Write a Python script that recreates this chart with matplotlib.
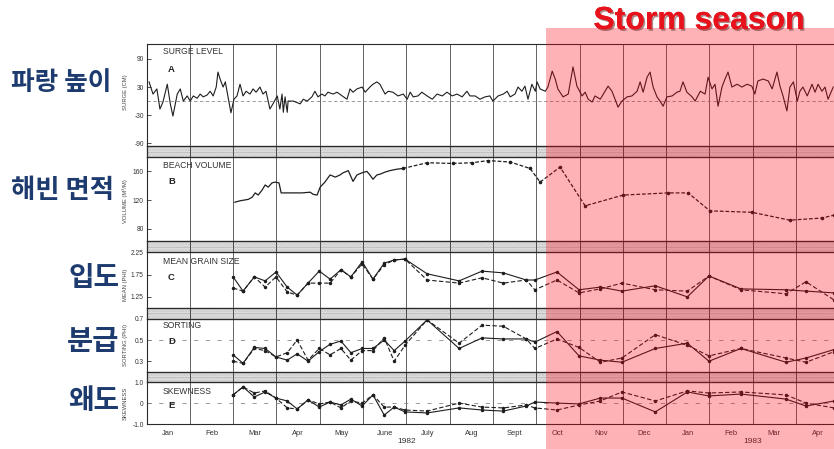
import numpy as np
import matplotlib
matplotlib.use("Agg")
import matplotlib.pyplot as plt
from matplotlib.patches import Rectangle
import matplotlib.patheffects as pe

plt.rcParams['font.family'] = ['Liberation Sans', 'DejaVu Sans']
plt.rcParams['axes.unicode_minus'] = False

# ---------------- data (time in months since 1 Jan 1982) ----------------
month_labels = ["Jan", "Feb", "Mar", "Apr", "May", "June", "July", "Aug", "Sept",
                "Oct", "Nov", "Dec", "Jan", "Feb", "Mar", "Apr"]
year_labels = ["1982", "1983"]
year_label_pos = [6, 14]

surge_t = [0.06, 0.15, 0.24, 0.31, 0.38, 0.48, 0.55, 0.61, 0.71, 0.78,
           0.85, 0.94, 1.01, 1.08, 1.17, 1.24, 1.31, 1.40, 1.47, 1.54,
           1.61, 1.65, 1.70, 1.77, 1.82, 1.88, 1.95, 2.02, 2.09, 2.16,
           2.23, 2.30, 2.39, 2.46, 2.53, 2.62, 2.69, 2.76, 2.85, 2.92,
           3.02, 3.08, 3.13, 3.16, 3.20, 3.25, 3.27, 3.39, 3.55, 3.62,
           3.71, 3.82, 3.89, 3.96, 4.05, 4.12, 4.19, 4.31, 4.40, 4.52,
           4.63, 4.70, 4.77, 4.86, 4.98, 5.05, 5.16, 5.23, 5.32, 5.39,
           5.51, 5.58, 5.69, 5.81, 5.93, 6.02, 6.09, 6.16, 6.27, 6.36,
           6.48, 6.60, 6.71, 6.83, 6.94, 7.06, 7.17, 7.29, 7.40, 7.47,
           7.59, 7.70, 7.82, 7.93, 8.00, 8.12, 8.24, 8.33, 8.40, 8.51,
           8.58, 8.67, 8.74, 8.81, 8.90, 8.98, 9.02, 9.09, 9.21, 9.27,
           9.37, 9.44, 9.50, 9.62, 9.74, 9.85, 9.94, 10.06, 10.13, 10.20,
           10.29, 10.36, 10.48, 10.59, 10.66, 10.75, 10.82, 10.89, 10.98, 11.10,
           11.21, 11.33, 11.40, 11.47, 11.56, 11.63, 11.70, 11.79, 11.86, 11.93,
           12.02, 12.14, 12.25, 12.32, 12.39, 12.48, 12.60, 12.67, 12.79, 12.90,
           12.97, 13.06, 13.13, 13.20, 13.29, 13.36, 13.43, 13.52, 13.64, 13.75,
           13.87, 13.98, 14.05, 14.12, 14.24, 14.36, 14.45, 14.56, 14.63, 14.70,
           14.79, 14.86, 14.94, 15.03, 15.09, 15.16, 15.26, 15.37, 15.44, 15.51,
           15.60, 15.67, 15.74, 15.86]
surge_cm = [41, 15, 26, -17, -2, 36, -6, -32, 15, 26,
            0, 11, 0, 11, 6, 15, 9, 13, 21, 11,
            30, 62, 47, 30, 41, 11, -25, 4, 11, 36,
            11, 21, 15, 26, 19, 30, 15, 21, -17, -6,
            11, -17, 15, -24, 9, -24, 0, 0, -6, 4,
            0, 9, 21, 9, 15, 11, 19, 15, 19, 11,
            4, 26, 19, 26, 30, 19, 30, 36, 41, 36,
            15, 21, 19, 11, 15, 4, 19, 9, 11, 19,
            11, 4, 15, 11, 19, 11, 15, 9, 21, 11,
            11, 4, 9, 11, 0, 11, 15, 21, 9, 15,
            30, 21, 32, 4, 36, 21, 41, 26, 21, 30,
            64, 47, 26, 9, 15, 73, 32, 11, 19, 4,
            -2, 11, 4, 21, 32, 21, 4, -13, 0, 9,
            11, 21, 41, 19, 51, 62, 30, 9, 0, -11,
            9, 11, 19, 21, 41, 19, 9, 0, 21, 15,
            51, 26, 36, -11, 30, 47, 62, 30, 36, 30,
            36, 32, 15, 43, 47, 43, 26, 62, 32, 11,
            -21, 30, 41, 0, 21, 30, 11, 36, 19, 36,
            21, 30, 4, 30]

# beach volume: continuous survey (solid) and monthly profiles (dashed)
volume_t_cont = [2.04, 2.16, 2.35, 2.44, 2.51, 2.58, 2.67, 2.74, 2.81, 2.90,
                 2.97, 3.06, 3.11, 3.20, 3.39, 3.59, 3.78, 3.85, 3.94, 4.01,
                 4.12, 4.24, 4.36, 4.47, 4.54, 4.66, 4.77, 4.86, 4.98, 5.09,
                 5.16, 5.23, 5.32, 5.39, 5.51, 5.62, 5.78, 5.92]
volume_cont = [117, 119, 121, 124, 130, 127, 134, 141, 138, 144,
               145, 144, 130, 130, 130, 130, 131, 128, 127, 138,
               145, 155, 152, 155, 158, 161, 146, 155, 158, 160,
               155, 149, 155, 156, 159, 161, 163, 164]
volume_t_monthly = [5.92, 6.48, 7.08, 7.52, 7.89, 8.40, 8.86, 9.09, 9.55,
                    10.13, 11.01, 12.05, 12.51, 13.01, 13.98, 14.86, 15.60, 15.88]
volume_monthly = [164, 172, 171, 172, 175, 173, 164, 145, 166,
                  112, 127, 130, 130, 105, 103, 92, 95, 99]

# grain-size statistics, two sampling lines (solid / dashed)
grain_t = [2.00, 2.23, 2.49, 2.74, 2.99, 3.25, 3.48, 3.73, 3.99, 4.24,
           4.49, 4.72, 4.98, 5.23, 5.49, 5.72, 5.97, 6.48, 7.22, 7.75,
           8.24, 8.77, 8.97, 9.48, 9.99, 10.48, 10.98, 11.75, 12.49, 12.99,
           13.73, 14.77, 15.23, 15.88]
mean_solid = [1.70, 1.38, 1.70, 1.61, 1.81, 1.47, 1.29, 1.56, 1.83, 1.65,
              1.86, 1.70, 2.04, 1.65, 2.01, 2.08, 2.10, 1.77, 1.61, 1.83,
              1.79, 1.63, 1.63, 1.81, 1.41, 1.47, 1.38, 1.50, 1.25, 1.72,
              1.43, 1.41, 1.38, 1.34]
mean_dashed = [1.45, 1.38, 1.70, 1.47, 1.70, 1.36, 1.29, 1.56, 1.56, 1.56,
               1.86, 1.70, 1.99, 1.65, 1.97, 2.08, 2.10, 1.63, 1.56, 1.68,
               1.56, 1.63, 1.41, 1.63, 1.34, 1.43, 1.56, 1.41, 1.38, 1.72,
               1.41, 1.32, 1.59, 1.18]
sorting_solid = [0.36, 0.28, 0.43, 0.42, 0.34, 0.31, 0.37, 0.30, 0.39, 0.46,
                 0.49, 0.38, 0.42, 0.42, 0.50, 0.40, 0.49, 0.69, 0.42, 0.52,
                 0.51, 0.51, 0.48, 0.58, 0.35, 0.31, 0.29, 0.42, 0.47, 0.30,
                 0.42, 0.29, 0.33, 0.41]
sorting_dashed = [0.30, 0.28, 0.42, 0.40, 0.34, 0.38, 0.50, 0.31, 0.42, 0.36,
                  0.42, 0.31, 0.40, 0.40, 0.52, 0.30, 0.45, 0.69, 0.47, 0.64,
                  0.63, 0.51, 0.42, 0.51, 0.43, 0.29, 0.33, 0.55, 0.45, 0.35,
                  0.42, 0.33, 0.29, 0.39]
skew_solid = [0.40, 0.78, 0.30, 0.54, 0.25, 0.11, -0.27, 0.16, -0.18, 0.06,
              -0.08, 0.20, -0.13, 0.40, -0.56, -0.18, -0.41, -0.46, -0.22, -0.32,
              -0.37, -0.13, 0.06, 0.01, -0.03, 0.25, 0.25, -0.41, 0.54, 0.35,
              0.44, 0.20, -0.13, 0.11]
skew_dashed = [0.40, 0.78, 0.49, 0.59, 0.25, -0.22, -0.27, 0.16, -0.03, 0.06,
               -0.22, 0.11, 0.01, 0.40, -0.18, -0.18, -0.32, -0.37, 0.01, -0.18,
               -0.22, -0.08, -0.22, -0.32, -0.08, 0.11, 0.54, 0.11, 0.59, 0.49,
               0.54, 0.40, 0.01, -0.22]

# ---------------- layout ----------------
W, H = 834, 449
fig = plt.figure(figsize=(W / 100, H / 100), dpi=100)
fig.patch.set_facecolor("white")

X0 = 146.5
PX_PER_MONTH = 43.3
XMAX = (W - X0) / PX_PER_MONTH
INK = "#1e1e1e"
GRID = "#4a4a4a"


def px_axes(top, bottom):
    return fig.add_axes([X0 / W, 1 - bottom / H, (W - X0) / W, (bottom - top) / H])


def frame(ax):
    ax.set_xlim(0, XMAX)
    ax.set_facecolor("none")
    ax.spines["right"].set_visible(False)
    for s in ("left", "top", "bottom"):
        ax.spines[s].set_linewidth(0.8)
        ax.spines[s].set_color("#2a2a2a")
    for m in range(1, 16):
        ax.axvline(m, color=GRID, lw=0.6, zorder=1)
    ax.set_xticks([])
    ax.tick_params(axis="y", direction="in", length=3, width=0.6, color="#333",
                   labelsize=4.8, labelcolor="#333", pad=2)


panel_px = [(44, 146), (157, 241), (252, 308), (318.5, 372), (382, 424.3)]
band_px = [(146, 157), (241, 252), (308, 318.5), (372, 382)]

# stippled separator bands
for top, bot in band_px:
    bx = px_axes(top, bot)
    bx.set_xlim(0, XMAX)
    bx.set_ylim(0, 1)
    bx.add_patch(Rectangle((0, 0), XMAX, 1, facecolor="#dedede", hatch="......",
                           edgecolor="#c8c8c8", lw=0))
    bx.axhline(0.5, color="#bdbdbd", lw=0.5)
    for m in range(1, 16):
        bx.axvline(m, color=GRID, lw=0.7)
    bx.set_xticks([]); bx.set_yticks([])
    bx.spines["right"].set_visible(False)
    for s in ("left", "top", "bottom"):
        bx.spines[s].set_linewidth(0.9)
        bx.spines[s].set_color("#2a2a2a")

axA, axB, axC, axD, axE = [px_axes(t, b) for t, b in panel_px]
for ax in (axA, axB, axC, axD, axE):
    frame(ax)

# A: surge level
axA.set_ylim(-96, 122)
axA.set_yticks([90, 30, -30, -90])
axA.axhline(0, color="#8a8a8a", lw=0.6, ls=(0, (4, 3)))
axA.plot(surge_t, surge_cm, color=INK, lw=0.8, zorder=3)

# B: beach volume
axB.set_ylim(63, 180)
axB.set_yticks([160, 120, 80])
axB.plot(volume_t_cont, volume_cont, color=INK, lw=0.9, zorder=3)
axB.plot(volume_t_monthly, volume_monthly, color=INK, lw=0.9, ls=(0, (3, 1.5)),
         marker="o", ms=1.6, zorder=3)

# C: mean grain size
axC.set_ylim(1.0, 2.26)
axC.set_yticks([2.25, 1.75, 1.25])
axC.set_yticklabels(["2.25", "1.75", "1.25"])
axC.plot(grain_t, mean_solid, color=INK, lw=0.8, marker="o", ms=1.5, zorder=3)
axC.plot(grain_t, mean_dashed, color=INK, lw=0.8, ls=(0, (4, 2)), marker="o", ms=1.5, zorder=3)

# D: sorting
axD.set_ylim(0.198, 0.703)
axD.set_yticks([0.7, 0.5, 0.3])
axD.set_yticklabels(["0.7", "0.5", "0.3"])
axD.axhline(0.5, color="#8a8a8a", lw=0.6, ls=(0, (5, 9)))
axD.plot(grain_t, sorting_solid, color=INK, lw=0.8, marker="o", ms=1.5, zorder=3)
axD.plot(grain_t, sorting_dashed, color=INK, lw=0.8, ls=(0, (4, 2)), marker="o", ms=1.5, zorder=3)

# E: skewness
axE.set_ylim(-1.0, 1.014)
axE.set_yticks([1.0, 0, -1.0])
axE.set_yticklabels(["1.0", "0", "-1.0"])
axE.axhline(0, color="#8a8a8a", lw=0.6, ls=(0, (5, 9)))
axE.plot(grain_t, skew_solid, color=INK, lw=0.8, marker="o", ms=1.5, zorder=3)
axE.plot(grain_t, skew_dashed, color=INK, lw=0.8, ls=(0, (4, 2)), marker="o", ms=1.5, zorder=3)
axE.set_xticks(np.arange(len(month_labels)) + 0.5)
axE.set_xticklabels(month_labels)
axE.tick_params(axis="x", length=0, labelsize=5.4, labelcolor="#333", pad=4)
for lab, pos in zip(year_labels, year_label_pos):
    axE.annotate(lab, xy=(pos, 0), xycoords=("data", "axes fraction"),
                 xytext=(0, -12.5), textcoords="offset points",
                 ha="center", va="center", fontsize=6, color="#333")

# panel titles, letters and axis names
titles = [("SURGE LEVEL", "A", 52, 70, "SURGE (CM)", 92),
          ("BEACH VOLUME", "B", 166, 182, "VOLUME (M\u00b3/M)", 201),
          ("MEAN GRAIN SIZE", "C", 262, 278, "MEAN (PHI)", 285),
          ("SORTING", "D", 326, 342, "SORTING (PHI)", 345),
          ("SKEWNESS", "E", 391, 405, "SKEWNESS", 403)]
for name, letter, ty, ly, yname, yy in titles:
    fig.text(163 / W, 1 - ty / H, name, fontsize=6.2, color="#333", va="center", ha="left")
    fig.text(168 / W, 1 - ly / H, letter, fontsize=6.8, fontweight="bold", color="#222",
             va="center", ha="left")
    fig.text(125 / W, 1 - yy / H, yname, fontsize=4.2, color="#444", rotation=90,
             va="center", ha="center")

# Korean row captions
kr = dict(family=["Noto Sans CJK KR", "DejaVu Sans"], fontweight="bold", color="#1d3b6e")
fig.text(11 / W, 1 - 83 / H, "파랑 높이", fontsize=18.5, ha="left", va="center", **kr)
fig.text(11 / W, 1 - 191 / H, "해빈 면적", fontsize=19, ha="left", va="center", **kr)
fig.text(119 / W, 1 - 278 / H, "입도", fontsize=20, ha="right", va="center", **kr)
fig.text(119 / W, 1 - 342 / H, "분급", fontsize=20.5, ha="right", va="center", **kr)
fig.text(119 / W, 1 - 401 / H, "왜도", fontsize=20, ha="right", va="center", **kr)

# storm-season shading and caption
fig.patches.append(Rectangle((546 / W, 0), (W - 546) / W, 1 - 28 / H,
                             transform=fig.transFigure, facecolor="#ff0010",
                             alpha=0.3, lw=0, zorder=50))
fig.text(699 / W, 1 - 21 / H, "Storm season", fontsize=23, fontweight="bold",
         color="#e8121c", ha="center", va="center", zorder=60,
         path_effects=[pe.withSimplePatchShadow(offset=(1.2, -1.2), shadow_rgbFace="#6b2a2a",
                                                alpha=0.55), pe.Normal()])

fig.savefig("out.png", dpi=100, facecolor="white")
